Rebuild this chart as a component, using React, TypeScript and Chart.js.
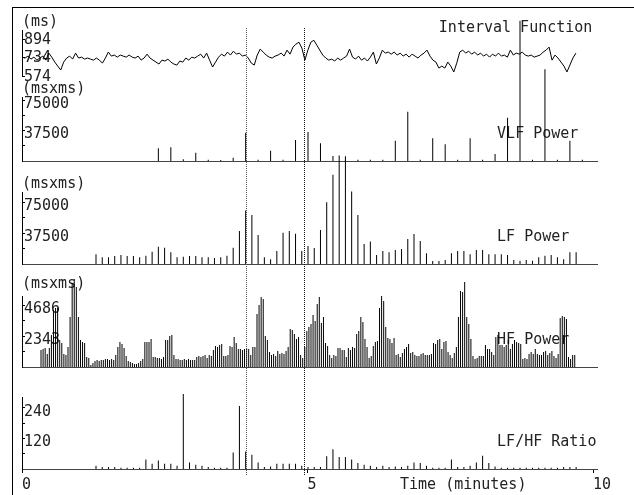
import React, { useEffect, useRef } from 'react';
import { Chart, registerables } from 'chart.js';

Chart.register(...registerables);

const PAGE_W = 634;
const PAGE_H = 495;
const FONT = "'DejaVu Sans Mono', 'Liberation Mono', monospace";
const INK = '#222';
const X_MAX = 10.07;

// ---------- time axis ----------
const xTickValues = [0, 5, 10];
const xAxisTitle = 'Time (minutes)';
const xAxisTitleAt = 6.62;
const markerTimes = [3.918, 4.939];

// ---------- interval function (ms) ----------
const intervalUnit = '(ms)';
const intervalName = 'Interval Function';
const intervalEndMin = 9.7;
const intervalTicks = [574, 734, 894];
const intervalValues = [
  738, 730, 747, 721, 738, 712, 730, 747, 712, 773,
  738, 695, 660, 626, 695, 730, 747, 721, 773, 730,
  738, 721, 730, 721, 712, 730, 712, 686, 730, 782,
  747, 756, 738, 756, 747, 738, 756, 738, 730, 747,
  712, 730, 764, 730, 712, 695, 678, 712, 704, 721,
  695, 678, 669, 704, 695, 730, 712, 738, 730, 747,
  764, 730, 773, 712, 652, 695, 738, 764, 747, 782,
  756, 790, 764, 773, 747, 756, 730, 686, 669, 756,
  808, 782, 756, 738, 730, 747, 756, 773, 747, 799,
  764, 825, 851, 868, 816, 712, 799, 868, 885, 842,
  799, 756, 730, 712, 721, 704, 730, 712, 730, 747,
  808, 738, 721, 747, 712, 730, 704, 738, 782, 678,
  730, 799, 773, 782, 764, 782, 756, 773, 747, 764,
  738, 764, 747, 730, 756, 773, 799, 747, 712, 695,
  643, 660, 643, 695, 660, 609, 686, 782, 799, 773,
  790, 764, 782, 756, 773, 747, 764, 738, 764, 747,
  773, 747, 756, 738, 799, 756, 773, 764, 782, 756,
  747, 756, 738, 747, 756, 782, 799, 825, 712, 756,
  730, 695, 660, 609, 669, 730, 773,
];

// ---------- VLF power (ms x ms) ----------
const powerUnit = '(msxms)';
const vlfName = 'VLF Power';
const vlfStartMin = 2.388;
const vlfStepMin = 0.2184;
const vlfValues = [
  15600, 16800, 2000, 10200, 1500, 1200, 4000, 34800, 1500, 12700,
  1500, 25800, 35700, 21700, 6100, 1500, 1500, 1500, 1500, 25000,
  60600, 1500, 27900, 20500, 1500, 27900, 1500, 8600, 53300, 172600,
  1500, 112800, 1500, 25000, 1500,
];
const powerTicks = [18750, 37500, 56250, 75000];
const powerLabeled = [37500, 75000];

// ---------- LF power (ms x ms) ----------
const lfName = 'LF Power';
const lfStartMin = 1.296;
const lfStepMin = 0.1092;
const lfValues = [
  11800, 8100, 8100, 9700, 11000, 9700, 9700, 8100, 10100, 15000,
  21100, 19900, 14200, 8100, 8900, 9700, 9700, 8100, 8100, 7300,
  8100, 10100, 19900, 40200, 64900, 59700, 35300, 8100, 5700, 15800,
  38100, 40200, 36900, 15800, 21900, 19500, 41400, 75100, 108400, 132000,
  131000, 88000, 59700, 24400, 27200, 11000, 15800, 14200, 17000, 18300,
  30400, 36500, 28000, 13000, 3700, 3700, 4900, 13000, 15800, 15800,
  11800, 17000, 17000, 11800, 11800, 11800, 11000, 4900, 4000, 4900,
  4000, 8100, 10100, 11000, 8100, 5700, 14200, 14200,
];

// ---------- HF power (ms x ms) ----------
const hfName = 'HF Power';
const hfStartMin = 0.333;
const hfStepMin = 0.03637;
const hfTicks = [1171.5, 2343, 3514.5, 4686];
const hfLabeled = [2343, 4686];
const hfValues = [
  1290, 1370, 1440, 990, 1440, 2430, 4330, 4480, 4480, 2050,
  1820, 990, 910, 1520, 3800, 6380, 6690, 6080, 3800, 2050,
  1900, 1820, 760, 680, 150, 300, 460, 530, 460, 530,
  530, 610, 610, 530, 610, 530, 910, 1520, 1900, 1750,
  1440, 840, 460, 380, 300, 230, 230, 300, 460, 610,
  1900, 1900, 1900, 2130, 760, 760, 680, 680, 610, 760,
  2050, 2050, 2360, 2430, 910, 610, 610, 530, 530, 610,
  530, 610, 530, 530, 530, 760, 840, 760, 840, 910,
  680, 910, 840, 1290,
  1600, 1520, 1670, 1750, 840, 840, 910, 1600, 1520, 2280,
  1820, 1370, 1370, 1290, 1370, 1440, 1370, 910, 1520, 1520,
  4030, 4710, 5320, 5170, 2360, 2050, 1140, 910, 990, 840,
  1220, 990, 1060, 990, 1220, 1520, 2890, 2810, 2510, 2130,
  2280, 910, 680, 1520, 2740, 3040, 3270, 3950, 3500, 4790,
  5320, 3340, 3800, 1820, 1600, 910, 680, 910, 840, 1440,
  1440, 1290, 1290, 760, 1440, 1290, 1520, 1440, 2510, 2740,
  3800, 3420, 2130, 1520, 680, 840, 1600, 1900, 1980, 4480,
  5400, 5020, 3040, 2200, 2130, 1820, 2200, 910, 990, 760,
  1060, 1370, 1520, 1750, 1060, 1140, 910, 840, 840, 990,
  1060, 910, 910, 910, 990, 1820, 1750, 2050, 2130, 1370,
  1900, 1980, 1140, 910, 680, 1060, 1520, 3800, 5780, 5700,
  6460, 3800, 3270, 2130, 840, 610, 680, 840, 840, 840,
  1670, 1370, 1370, 1140, 910, 2280, 2430, 1670, 1670, 1520,
  1670, 2050, 1370, 1750, 2050, 1900, 1820, 1750, 610, 680,
  610, 990, 1140, 990, 1370, 990, 910, 910, 1140, 1220,
  910, 1060, 1220, 840, 680, 990, 3720, 3880, 3800, 3650,
  760, 610, 910, 910,
];

// ---------- LF/HF ratio (same times as LF) ----------
const ratioName = 'LF/HF Ratio';
const ratioTicks = [60, 120, 180, 240];
const ratioLabeled = [120, 240];
const ratioValues = [
  13, 8, 8, 8, 5, 5, 5, 5, 37, 21,
  33, 21, 21, 13, 295, 26, 17, 13, 8, 5,
  5, 5, 65, 248, 69, 56, 26, 8, 10, 21,
  21, 21, 21, 13, 8, 8, 8, 50, 78, 47,
  47, 37, 24, 17, 13, 8, 13, 8, 10, 8,
  13, 26, 24, 13, 5, 5, 5, 37, 8, 8,
  13, 26, 52, 24, 10, 5, 5, 5, 5, 5,
  5, 5, 5, 5, 5, 8, 8, 8,
];

// ---------- helpers ----------
const evenTimes = (start: number, step: number, n: number) =>
  Array.from({ length: n }, (_, i) => start + i * step);

const toPoints = (times: number[], values: number[]) =>
  values.map((v, i) => ({ x: times[i], y: v }));

const tickFont = { family: FONT, size: 15, weight: 'normal' as const };

function yAxis(min: number, max: number, ticks: number[], labeled: number[], labelOffset: number) {
  return {
    type: 'linear',
    position: 'left',
    min,
    max,
    bounds: 'data',
    afterFit: (s: any) => { s.width = 0; },
    afterBuildTicks: (s: any) => { s.ticks = ticks.map((v) => ({ value: v })); },
    ticks: {
      mirror: true,
      padding: 2,
      labelOffset,
      autoSkip: false,
      font: tickFont,
      color: INK,
      callback: (v: any) => (labeled.includes(v) ? String(v) : ''),
    },
    grid: { drawOnChartArea: false, drawTicks: true, tickLength: -3, color: '#000', lineWidth: 1, offset: false },
    border: { display: true, color: '#000', width: 1 },
  };
}

const hiddenX = {
  type: 'linear', min: 0, max: X_MAX, offset: false, display: false,
  grid: { offset: false },
};

const baselineX = {
  type: 'linear', min: 0, max: X_MAX, offset: false, display: true,
  afterFit: (s: any) => { s.height = 0; },
  ticks: { display: false },
  grid: { drawOnChartArea: false, drawTicks: false, offset: false },
  border: { display: true, color: '#444', width: 1 },
};

const timeX = {
  type: 'linear', min: 0, max: X_MAX, offset: false, display: true,
  afterFit: (s: any) => { s.height = 26; },
  afterBuildTicks: (s: any) => {
    s.ticks = [...xTickValues, xAxisTitleAt].sort((a, b) => a - b).map((v) => ({ value: v }));
  },
  ticks: {
    autoSkip: false, maxRotation: 0, minRotation: 0, align: 'start', padding: 3,
    font: tickFont, color: INK,
    callback: (v: any) => (v === xAxisTitleAt ? xAxisTitle : String(v)),
  },
  grid: {
    drawOnChartArea: false, drawTicks: true, tickLength: 4, offset: false,
    tickColor: (ctx: any) => (ctx.tick && ctx.tick.value === xAxisTitleAt ? 'rgba(0,0,0,0)' : '#000'),
  },
  border: { display: true, color: '#444', width: 1 },
};

function nameLabel(id: string, text: string, atMinute: number, atValue: number, dy: number) {
  return {
    id,
    beforeDatasetsDraw(chart: any) {
      const { ctx, scales } = chart;
      const x = scales.x.getPixelForValue(atMinute);
      const y = scales.y.getPixelForValue(atValue) + dy;
      ctx.save();
      ctx.font = `15px ${FONT}`;
      ctx.fillStyle = INK;
      ctx.textAlign = 'left';
      ctx.textBaseline = 'middle';
      ctx.fillText(text, x, y);
      ctx.restore();
    },
  };
}

const MARKER_COLORS = ['#555', '#111'];
const markerPlugin = {
  id: 'timeMarkers',
  afterDraw(chart: any) {
    const { ctx } = chart;
    const xs = chart.scales.x;
    ctx.save();
    ctx.lineWidth = 1;
    ctx.setLineDash([1, 1]);
    markerTimes.forEach((t, i) => {
      const x = Math.round(xs.getPixelForValue(t)) + 0.5;
      ctx.strokeStyle = MARKER_COLORS[i % MARKER_COLORS.length];
      ctx.beginPath();
      ctx.moveTo(x, 28);
      ctx.lineTo(x, 475);
      ctx.stroke();
    });
    ctx.restore();
  },
};

const barStyle = {
  backgroundColor: '#000',
  borderWidth: 0,
  barThickness: 1,
  inflateAmount: 0,
  clip: false,
};

const lfTimes = evenTimes(lfStartMin, lfStepMin, lfValues.length);

const panels: any[] = [
  {
    key: 'interval', type: 'line', top: 15, bottom: 76, title: intervalUnit, titleGap: 0,
    x: hiddenX, y: yAxis(574, 974, intervalTicks, intervalTicks, 1),
    dataset: {
      data: toPoints(evenTimes(0, intervalEndMin / (intervalValues.length - 1), intervalValues.length), intervalValues),
      borderColor: '#000', borderWidth: 1, pointRadius: 0, tension: 0, clip: false,
    },
    label: nameLabel('intervalName', intervalName, 7.3, 894, -11),
  },
  {
    key: 'vlf', type: 'bar', top: 82, bottom: 161, title: powerUnit, titleGap: 0,
    x: baselineX, y: yAxis(0, 78700, powerTicks, powerLabeled, 4),
    dataset: { data: toPoints(evenTimes(vlfStartMin, vlfStepMin, vlfValues.length), vlfValues), ...barStyle },
    label: nameLabel('vlfName', vlfName, 8.32, 37500, 4),
  },
  {
    key: 'lf', type: 'bar', top: 177, bottom: 264, title: powerUnit, titleGap: 0,
    x: baselineX, y: yAxis(0, 87500, powerTicks, powerLabeled, 4),
    dataset: { data: toPoints(lfTimes, lfValues), ...barStyle },
    label: nameLabel('lfName', lfName, 8.32, 37500, 4),
  },
  {
    key: 'hf', type: 'bar', top: 277, bottom: 367, title: powerUnit, titleGap: 4,
    x: baselineX, y: yAxis(0, 5400, hfTicks, hfLabeled, 4),
    dataset: { data: toPoints(evenTimes(hfStartMin, hfStepMin, hfValues.length), hfValues), ...barStyle },
    label: nameLabel('hfName', hfName, 8.32, 2343, 4),
  },
  {
    key: 'ratio', type: 'bar', top: 397, bottom: 495, title: '', titleGap: 0,
    x: timeX, y: yAxis(0, 283, ratioTicks, ratioLabeled, 4),
    dataset: { data: toPoints(lfTimes, ratioValues), ...barStyle },
    label: nameLabel('ratioName', ratioName, 8.32, 120, 4),
  },
];

function buildConfig(p: any, isLast: boolean): any {
  return {
    type: p.type,
    data: { datasets: [p.dataset] },
    options: {
      responsive: false,
      animation: false,
      devicePixelRatio: 1,
      events: [],
      layout: { padding: { left: 22, right: PAGE_W - 597, top: p.top, bottom: PAGE_H - p.bottom } },
      plugins: {
        legend: { display: false },
        tooltip: { enabled: false },
        title: p.title
          ? {
              display: true, text: p.title, align: 'start', color: INK,
              font: { family: FONT, size: 15, weight: 'normal', lineHeight: 1 },
              padding: { top: 0, bottom: p.titleGap },
            }
          : { display: false },
      },
      scales: { x: p.x, y: p.y },
    },
    plugins: isLast ? [p.label, markerPlugin] : [p.label],
  };
}

export default function App() {
  const refs = useRef<(HTMLCanvasElement | null)[]>([]);

  useEffect(() => {
    const charts = panels.map((p, i) => new Chart(refs.current[i] as HTMLCanvasElement, buildConfig(p, i === panels.length - 1)));
    return () => charts.forEach((c) => c.destroy());
  }, []);

  return (
    <div style={{ position: 'absolute', left: 0, top: 0, width: PAGE_W, height: PAGE_H, overflow: 'hidden', background: '#fff' }}>
      <div style={{ position: 'absolute', left: 12, top: 7, width: PAGE_W, height: PAGE_H, borderTop: '1px solid #000', borderLeft: '1px solid #000' }} />
      {panels.map((p, i) => (
        <canvas
          key={p.key}
          ref={(el) => { refs.current[i] = el; }}
          width={PAGE_W}
          height={PAGE_H}
          style={{ position: 'absolute', left: 0, top: 0 }}
        />
      ))}
    </div>
  );
}
